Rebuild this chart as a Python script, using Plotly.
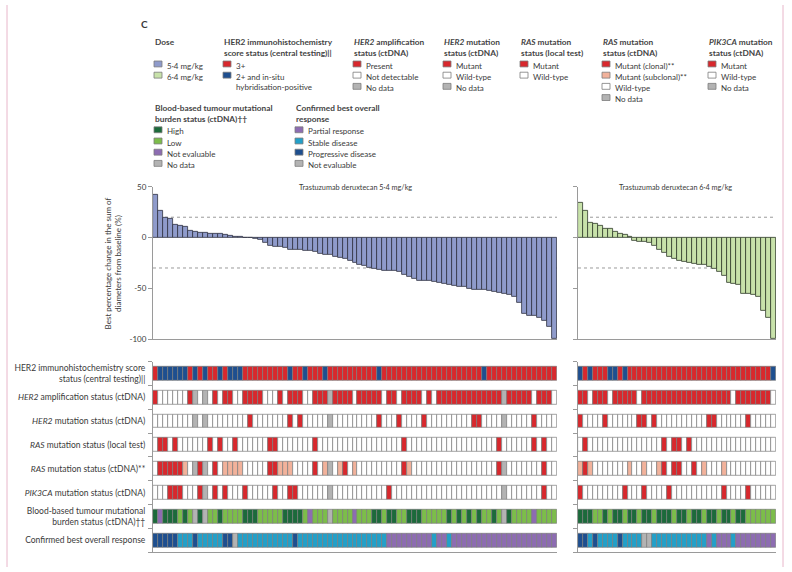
import plotly.graph_objects as go

W, H = 792, 572


def px(x):
    return x / W


def py(y):
    return 1 - y / H


# ---------------- data ----------------
# Best percentage change from baseline, sorted waterfall order
change_54 = [42, 26, 19, 18.5, 13, 12, 11, 6.5, 6, 5, 4.5, 4, 4, 3.5, 3, 1.5, 1, 0.5, 0, -0.5,
             -1, -2.5, -5, -8.5, -9, -9.5, -10, -12, -12.5, -12.5, -13, -13.5, -14.5, -15.5, -16.5,
             -17, -18.5, -20, -21, -23, -24.5, -27, -28, -30, -31, -32, -33, -33, -33, -34,
             -36.5, -38.5, -41, -42.5, -42.5, -42.5, -43.5, -44.5, -45.5, -46.5, -47.5, -48, -48.5,
             -50, -51, -51, -51, -52, -53, -54, -55, -56.5, -58.5, -64.5, -75, -77, -77, -79.5,
             -82, -88, -100]
change_64 = [34, 26, 15, 14, 11.5, 9, 8.5, 5.5, 3.5, 2.5, 1, -3.5, -3.8, -4.5, -5.5, -8.5, -12,
             -15, -19, -21, -23, -23.5, -24.5, -25.5, -26.5, -27, -29, -31, -34, -38, -44.5, -46,
             -47, -55, -55.5, -56, -58, -72, -79, -100]

row_labels = [
    "HER2 immunohistochemistry score<br>status (central testing)||",
    "<i>HER2</i> amplification status (ctDNA)",
    "<i>HER2</i> mutation status (ctDNA)",
    "<i>RAS</i> mutation status (local test)",
    "<i>RAS</i> mutation status (ctDNA)**",
    "<i>PIK3CA</i> mutation status (ctDNA)",
    "Blood-based tumour mutational<br>burden status (ctDNA)††",
    "Confirmed best overall response",
]

# Category codes: R red/positive/mutant, B dark blue (IHC 2+ / progressive), W white, G grey no data,
# S salmon subclonal, D high TMB, L low TMB, P purple, T stable disease
ihc_54 = "RBBBBBBRBR BRRBRBBBRR RRRRRRRBRR BRRRBRRRRR RRRRRBRRRR RRRRRRRRRR RRRRRRBRRR RRRRRRRRRR R"
amp_54 = "RWWWWWWRGW GWRWRRWWRR RRWWWRWRRR WWRRRGRRRR WRRRRRWRRW RRRRWRWRRR RRRRRRRRRR GRRRRRWRRR W"
her2mut_54 = "WWWWWWWWGW GWWWWWWWWR WWWWWWWRWR WWWWWGWWWW WWWWWRWWWR WWWWRWWWWW WWWWRRWWWW GWWWWWRWWW W"
raslocal_54 = "WRRWRWWWWW WRWRWWRWWW WWWRRWWWWW WWRWWWWWWW WWWWWWWWWW RWWWWWWWWW WWWWWWWWWR WWWWWWRWRW W"
rasct_54 = "WRRRRRSWGR GWRWSSSSWW WWWRRSSSWW WWRWSGWSRW SWWWWWWWWW RSWWWWWWWW WWWWWWWWWR GWWWWWWWRW W"
pik_54 = "WWWRRRWWWR GWRWRWWWRW WWWWRWWRRW WWWWWGWWWW WWWWWWWRWW WWWWWWWWWW WWWWWWWWWW GWWWWWWWRW W"
tmb_54 = "DPDDDLDLGD GLLDLLLLDD DLLLLLDDDD LPLLLGLLLL PLLLDDLDDL LDDDLLLLLD LDLDLDLLDL GDLLLLPLLL L"
bor_54 = "BBBBBTTTBT TTTTBBGTTT TTTTTTTTBT TTTTTTTTTT TTTTTTTPPP PPPPPPTPPT PPPPPPPPPP PPPPPPPPPP P"

ihc_64 = "BRBRRRBBRB RRRRRRRRRR RRRRRRRRRR RRRRRRRRRB"
amp_64 = "RRWRRRWRRR RRWRRRRRRR RRRRRRRRRR RWRRRRRRRW"
her2mut_64 = "RWWWWRWWWW WWRRWRWWWW WWWWWWRRWW WWWWRWWWWW"
raslocal_64 = "WRWWWWWWWW WWWWWWWRWR RWRWWWWWWW WWWWWWWWWW"
rasct_64 = "SRSWWWWWWW SWWSWWSRWR RWWRWSWWWS WWWWWWWWWW"
pik_64 = "RWWWWWWWWR WWWRWWWWRW WWWWWWWWWR WWWWRWWWWW"
tmb_64 = "DDDLLDLDDL DDLDDLDDDL DDLDDLDDLD DLDDLLLLLL"
bor_64 = "BBTBTTTTBT TTTGGTTTTT TTTTTTPTPP PTPPPPPPPP"

rows_54 = [ihc_54, amp_54, her2mut_54, raslocal_54, rasct_54, pik_54, tmb_54, bor_54]
rows_64 = [ihc_64, amp_64, her2mut_64, raslocal_64, rasct_64, pik_64, tmb_64, bor_64]

# ---------------- styles ----------------
RED = "#d8282d"
DBLUE = "#1e4f8f"
WHITE = "#ffffff"
GREY = "#b3b3b3"
SALMON = "#f2b29b"
DGREEN = "#1c6a3b"
LGREEN = "#7cbd4a"
PURPLE = "#8d6cb2"
TEAL = "#22a0c9"
BLUE54 = "#8f9bcb"
GREEN64 = "#c8e2aa"
CMAP = {"R": RED, "B": DBLUE, "W": WHITE, "G": GREY, "S": SALMON,
        "D": DGREEN, "L": LGREEN, "P": PURPLE, "T": TEAL}
AX = "#9a9a9a"
TXT = "#3a3a3a"
FONT = "Lato"

fig = go.Figure()

# waterfall bars
fig.add_trace(go.Bar(x=list(range(1, len(change_54) + 1)), y=change_54, width=1,
                     marker=dict(color=BLUE54, line=dict(color="#2e3140", width=0.8)),
                     xaxis="x", yaxis="y", showlegend=False, hoverinfo="y"))
fig.add_trace(go.Bar(x=list(range(1, len(change_64) + 1)), y=change_64, width=1,
                     marker=dict(color=GREEN64, line=dict(color="#2e3a2a", width=0.8)),
                     xaxis="x2", yaxis="y2", showlegend=False, hoverinfo="y"))


def clean(s, n):
    s = s.replace(" ", "")
    s = (s + "W" * n)[:n]
    return s


CELL_H = 0.58
for panel, rows, n, xa, ya in [(0, rows_54, len(change_54), "x3", "y3"),
                               (1, rows_64, len(change_64), "x4", "y4")]:
    for r, s in enumerate(rows):
        s = clean(s, n)
        fig.add_trace(go.Bar(
            x=list(range(1, n + 1)), y=[CELL_H] * n, base=[r + (1 - CELL_H) / 2] * n, width=1,
            marker=dict(color=[CMAP[c] for c in s], line=dict(color="#7c7c7c", width=0.7)),
            xaxis=xa, yaxis=ya, showlegend=False, hoverinfo="skip"))

x_left = [px(153), px(557)]
x_right = [px(578), px(776)]
wf_dom = [py(340), py(185)]
hm_dom = [py(557), py(363)]
tickfont = dict(family=FONT, size=8, color=TXT)
rowfont = dict(family=FONT, size=8.5, color=TXT)

common_x = dict(showgrid=False, zeroline=False, showticklabels=False, ticks="",
                showline=True, linecolor=AX, linewidth=1, fixedrange=True)
fig.update_layout(
    width=W, height=H, margin=dict(l=0, r=0, t=0, b=0),
    paper_bgcolor="white", plot_bgcolor="white", barmode="overlay", bargap=0,
    font=dict(family=FONT, color=TXT, size=8),
    xaxis=dict(domain=x_left, range=[0.5, len(change_54) + 0.5], anchor="y", **common_x),
    xaxis2=dict(domain=x_right, range=[0.5, len(change_64) + 0.5], anchor="y2", **common_x),
    xaxis3=dict(domain=x_left, range=[0.5, len(change_54) + 0.5], anchor="y3", **common_x),
    xaxis4=dict(domain=x_right, range=[0.5, len(change_64) + 0.5], anchor="y4", **common_x),
    yaxis=dict(domain=wf_dom, range=[-100, 50], anchor="x", tickvals=[50, 0, -50, -100],
               ticktext=["50", "0", "-50", "-100"], ticks="outside", ticklen=4, tickcolor=AX,
               showline=True, linecolor=AX, showgrid=False, zeroline=False, tickfont=tickfont,
               fixedrange=True),
    yaxis2=dict(domain=wf_dom, range=[-100, 50], anchor="x2", tickvals=[50, 0, -50, -100],
                ticks="outside", ticklen=4, tickcolor=AX, showticklabels=False,
                showline=True, linecolor=AX, showgrid=False, zeroline=False, fixedrange=True),
    yaxis3=dict(domain=hm_dom, range=[8, 0], anchor="x3",
                tickvals=[i + 0.5 for i in range(8)], ticktext=row_labels, ticks="",
                minor=dict(tickvals=list(range(9)), ticks="outside", ticklen=4, tickcolor=AX),
                showline=True, linecolor=AX, showgrid=False, zeroline=False, tickfont=rowfont,
                ticklabelstandoff=5, fixedrange=True),
    yaxis4=dict(domain=hm_dom, range=[8, 0], anchor="x4", tickvals=[], showticklabels=False,
                minor=dict(tickvals=list(range(9)), ticks="outside", ticklen=4, tickcolor=AX),
                showline=True, linecolor=AX, showgrid=False, zeroline=False, fixedrange=True),
)

shapes = []
for xa, ya in [("x", "y"), ("x2", "y2")]:
    for yv in [20, -30]:
        shapes.append(dict(type="line", xref=xa + " domain", x0=0, x1=1, yref=ya, y0=yv, y1=yv,
                           line=dict(color="#9a9a9a", width=1, dash="dot"), layer="below"))
# page frame lines
for xv in [7, 783]:
    shapes.append(dict(type="line", xref="paper", yref="paper", x0=px(xv), x1=px(xv), y0=0, y1=1,
                       line=dict(color="#e8b6ca", width=1)))

annotations = [
    dict(text="<b>C</b>", x=px(139), y=py(19), xref="paper", yref="paper", showarrow=False,
         xanchor="left", yanchor="middle", font=dict(family=FONT, size=10, color=TXT)),
    dict(text="Trastuzumab deruxtecan 5·4 mg/kg", x=px(355), y=py(186), xref="paper", yref="paper",
         showarrow=False, xanchor="center", yanchor="middle", font=dict(family=FONT, size=7.3, color=TXT)),
    dict(text="Trastuzumab deruxtecan 6·4 mg/kg", x=px(675), y=py(186), xref="paper", yref="paper",
         showarrow=False, xanchor="center", yanchor="middle", font=dict(family=FONT, size=7.3, color=TXT)),
    dict(text="Best percentage change in the sum of<br>diameters from baseline (%)", x=px(113),
         y=py(263), xref="paper", yref="paper", showarrow=False, textangle=-90,
         xanchor="center", yanchor="middle", font=dict(family=FONT, size=8, color=TXT)),
]

# ---------------- custom legend ----------------
legend_groups = [
    ("Dose", 154, 37, [("5·4 mg/kg", BLUE54), ("6·4 mg/kg", GREEN64)]),
    ("HER2 immunohistochemistry<br>score status (central testing)||", 223, 37,
     [("3+", RED), ("2+ and in-situ<br>hybridisation-positive", DBLUE)]),
    ("<i>HER2</i> amplification<br>status (ctDNA)", 353, 37,
     [("Present", RED), ("Not detectable", WHITE), ("No data", GREY)]),
    ("<i>HER2</i> mutation<br>status (ctDNA)", 443, 37,
     [("Mutant", RED), ("Wild-type", WHITE), ("No data", GREY)]),
    ("<i>RAS</i> mutation<br>status (local test)", 520, 37,
     [("Mutant", RED), ("Wild-type", WHITE)]),
    ("<i>RAS</i> mutation<br>status (ctDNA)", 602, 37,
     [("Mutant (clonal)**", RED), ("Mutant (subclonal)**", SALMON), ("Wild-type", WHITE),
      ("No data", GREY)]),
    ("<i>PIK3CA</i> mutation<br>status (ctDNA)", 708, 37,
     [("Mutant", RED), ("Wild-type", WHITE), ("No data", GREY)]),
    ("Blood-based tumour mutational<br>burden status (ctDNA)††", 154, 104,
     [("High", DGREEN), ("Low", LGREEN), ("Not evaluable", PURPLE), ("No data", GREY)]),
    ("Confirmed best overall<br>response", 295, 104,
     [("Partial response", PURPLE), ("Stable disease", TEAL), ("Progressive disease", DBLUE),
      ("Not evaluable", GREY)]),
]
STEP = 11.4
for title, gx, gy, items in legend_groups:
    annotations.append(dict(text="<b>" + title + "</b>", x=px(gx - 1), y=py(gy - 6), xref="paper",
                            yref="paper", showarrow=False, xanchor="left", yanchor="top",
                            align="left", font=dict(family=FONT, size=8.3, color="#444444")))
    for k, (lab, col) in enumerate(items):
        iy = gy + 23 + STEP * k
        shapes.append(dict(type="rect", xref="paper", yref="paper", x0=px(gx), x1=px(gx + 8),
                           y0=py(iy + 3), y1=py(iy - 3), fillcolor=col,
                           line=dict(color="#7c7c7c", width=0.8)))
        annotations.append(dict(text=lab, x=px(gx + 11), y=py(iy - 5.5), xref="paper",
                                yref="paper", showarrow=False, xanchor="left", yanchor="top",
                                align="left", font=dict(family=FONT, size=8, color=TXT)))

fig.update_layout(shapes=shapes, annotations=annotations)
fig.write_html("out.html")
